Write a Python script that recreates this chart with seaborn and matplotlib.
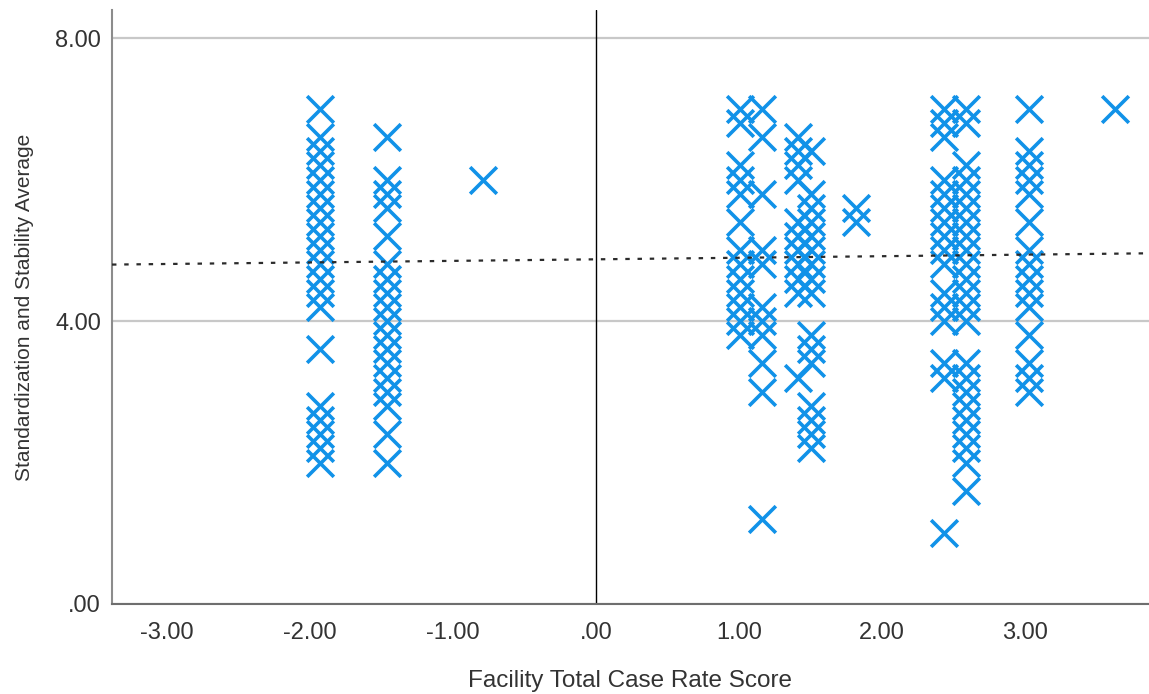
import matplotlib
matplotlib.use("Agg")
import matplotlib.pyplot as plt
import seaborn as sns
import pandas as pd

# Facility case-rate score groups (x) and the stability averages recorded in each
score_a, stab_a = -1.93, [7.0, 6.6, 6.4, 6.2, 6.0, 5.8, 5.6, 5.4, 5.2, 5.0, 4.8, 4.6, 4.4, 4.2,
                          3.6, 2.8, 2.6, 2.4, 2.2, 2.0]
score_b, stab_b = -1.46, [6.6, 6.0, 5.8, 5.6, 5.2, 4.8, 4.6, 4.4, 4.2, 4.0, 3.8, 3.6, 3.4, 3.2,
                          3.0, 2.8, 2.4, 2.0]
score_c, stab_c = -0.79, [6.0]
score_d1, stab_d1 = 1.01, [7.0, 6.8, 6.2, 6.0, 5.8, 5.4, 5.0, 4.8, 4.6, 4.4, 4.2, 4.0, 3.8]
score_d2, stab_d2 = 1.16, [7.0, 6.6, 5.8, 5.0, 4.8, 4.2, 4.0, 3.8, 3.4, 3.0, 1.2]
score_e1, stab_e1 = 1.41, [6.6, 6.4, 6.2, 6.0, 5.4, 5.2, 5.0, 4.8, 4.6, 4.4, 3.2]
score_e2, stab_e2 = 1.50, [6.4, 5.8, 5.6, 5.4, 5.2, 5.0, 4.8, 4.6, 4.4, 3.8, 3.6, 3.4,
                           2.8, 2.6, 2.4, 2.2]
score_f, stab_f = 1.82, [5.6, 5.4]
score_g1, stab_g1 = 2.43, [7.0, 6.8, 6.6, 6.0, 5.8, 5.6, 5.4, 5.2, 5.0, 4.8, 4.4, 4.2, 4.0,
                           3.4, 3.2, 1.0]
score_g2, stab_g2 = 2.59, [7.0, 6.8, 6.2, 6.0, 5.8, 5.6, 5.4, 5.2, 5.0, 4.8, 4.6, 4.4, 4.2, 4.0,
                           3.4, 3.2, 3.0, 2.8, 2.6, 2.4, 2.2, 2.0, 1.6]
score_h, stab_h = 3.03, [7.0, 6.4, 6.2, 6.0, 5.8, 5.4, 5.0, 4.8, 4.6, 4.4, 4.2, 3.8, 3.4, 3.2, 3.0]
score_i, stab_i = 3.63, [7.0]

# Fit line (total population)
fit_intercept = 4.872
fit_slope = 0.022

x_ticks = [-3, -2, -1, 0, 1, 2, 3]
y_ticks = [0, 4, 8]

groups = [(score_a, stab_a), (score_b, stab_b), (score_c, stab_c), (score_d1, stab_d1),
          (score_d2, stab_d2), (score_e1, stab_e1), (score_e2, stab_e2), (score_f, stab_f),
          (score_g1, stab_g1), (score_g2, stab_g2), (score_h, stab_h), (score_i, stab_i)]
rows = [(sx, sy) for sx, ys in groups for sy in ys]
df = pd.DataFrame(rows, columns=["case_rate", "stability"])


def spss_fmt(v):
    s = f"{v:.2f}"
    if s.startswith("0."):
        s = s[1:]
    elif s.startswith("-0."):
        s = "-" + s[2:]
    return s


sns.set_theme(style="white")
plt.rcParams["font.family"] = ["Liberation Sans", "DejaVu Sans"]

fig = plt.figure(figsize=(11.49, 6.94), dpi=100)
ax = fig.add_axes([112 / 1149, 90 / 694, 1037 / 1149, 594 / 694])

ax.axvline(0, color="black", linewidth=1.0, zorder=1)

sns.scatterplot(data=df, x="case_rate", y="stability", marker="x", s=370,
                linewidth=2.6, color="#1192e8", legend=False, ax=ax, zorder=3)

ax.axline((0, fit_intercept), slope=fit_slope, color="#2b2b2b",
          linestyle=(0, (2, 3.5)), linewidth=1.6, zorder=4)

ax.set_xlim(-3.385, 3.867)
ax.set_ylim(0, 8.396)
ax.set_xticks(x_ticks)
ax.set_xticklabels([spss_fmt(v) for v in x_ticks])
ax.set_yticks(y_ticks)
ax.set_yticklabels([spss_fmt(v) for v in y_ticks])

ax.yaxis.grid(True, color="#c8c8c8", linewidth=1.6)
ax.xaxis.grid(False)
ax.set_axisbelow(True)

for side in ("top", "right"):
    ax.spines[side].set_visible(False)
ax.spines["left"].set_color("#8c8c8c")
ax.spines["left"].set_linewidth(1.5)
ax.spines["bottom"].set_color("#6e6e6e")
ax.spines["bottom"].set_linewidth(1.5)

ax.tick_params(axis="both", length=0, labelsize=17, colors="#333333")
ax.tick_params(axis="x", pad=13)
ax.tick_params(axis="y", pad=8)

ax.set_xlabel("Facility Total Case Rate Score", fontsize=17.5, color="#333333", labelpad=19)
ax.set_ylabel("Standardization and Stability Average", fontsize=15, color="#333333", labelpad=15)

fig.savefig("out.png", dpi=100)
